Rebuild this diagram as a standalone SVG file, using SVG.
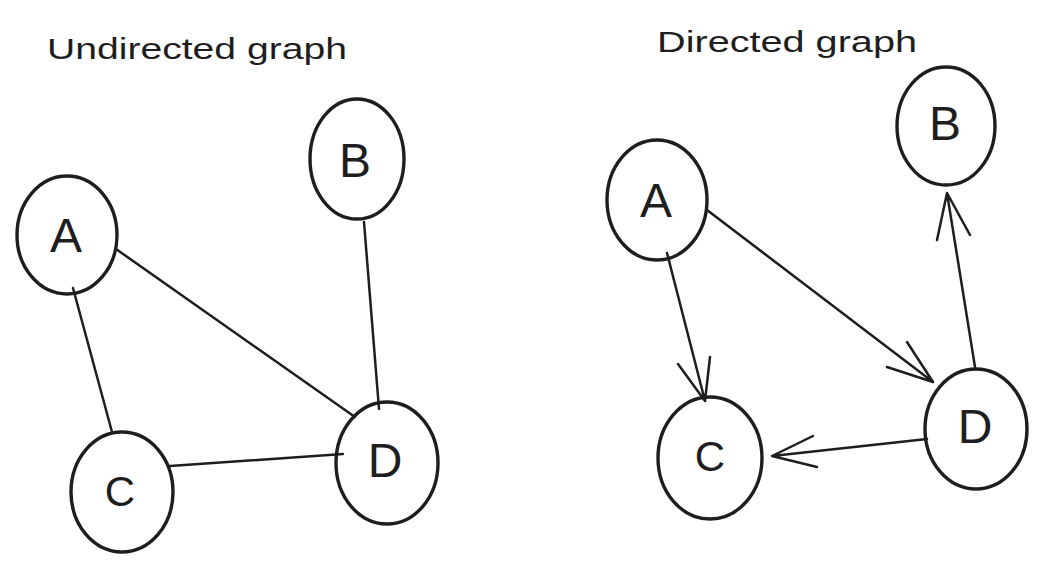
<svg xmlns="http://www.w3.org/2000/svg" width="1042" height="568" viewBox="0 0 1042 568">
<style>
.bg{fill:#ffffff}
.node{fill:none;stroke:#1e1e1e;stroke-width:3.4}
.lbl{font-family:"Liberation Sans",Arial,sans-serif;font-size:48px;fill:#1e1e1e;text-anchor:middle}
.title{font-family:"Liberation Sans",Arial,sans-serif;font-size:30px;fill:#1e1e1e}
.edge{fill:none;stroke:#1e1e1e;stroke-width:2.5;stroke-linecap:round;stroke-linejoin:round}
</style>
<rect class="bg" x="0" y="0" width="1042" height="568"/>
<g id="titles">
<text class="title" x="47" y="59" textLength="300" lengthAdjust="spacingAndGlyphs">Undirected graph</text>
<text class="title" x="657" y="52" textLength="260" lengthAdjust="spacingAndGlyphs">Directed graph</text>
</g>
<g id="connectors">
<path class="edge" d="M73 288 L112 432"/>
<path class="edge" d="M116 249 L355 417"/>
<path class="edge" d="M364 222 L379 409"/>
<path class="edge" d="M170 466 L343 454"/>
<path class="edge" d="M667 253 L705 401 M678 364 L705 401 L710 357"/>
<path class="edge" d="M707 210 L933 382 M887 367 L933 382 L907 342"/>
<path class="edge" d="M975 367 L947 193 M937 240 L947 193 L970 235"/>
<path class="edge" d="M927 439 L772 456 M813 436 L772 456 L817 467"/>
</g>
<g id="uA"><ellipse class="node" cx="67" cy="235" rx="50" ry="59"/><text class="lbl" x="66" y="252">A</text></g>
<g id="uB"><ellipse class="node" cx="357" cy="159" rx="47" ry="60"/><text class="lbl" x="355" y="177">B</text></g>
<g id="uC"><ellipse class="node" cx="122" cy="492" rx="51" ry="60"/><text class="lbl" x="120" y="506" style="font-size:42px">C</text></g>
<g id="uD"><ellipse class="node" cx="387" cy="463" rx="51" ry="61"/><text class="lbl" x="385" y="477">D</text></g>
<g id="dA"><ellipse class="node" cx="657" cy="200" rx="50" ry="60"/><text class="lbl" x="656" y="217">A</text></g>
<g id="dB"><ellipse class="node" cx="946" cy="126" rx="49" ry="59"/><text class="lbl" x="945" y="140">B</text></g>
<g id="dC"><ellipse class="node" cx="710" cy="458" rx="52" ry="61"/><text class="lbl" x="710" y="471" style="font-size:42px">C</text></g>
<g id="dD"><ellipse class="node" cx="976" cy="429" rx="51" ry="60"/><text class="lbl" x="975" y="443">D</text></g>
</svg>
